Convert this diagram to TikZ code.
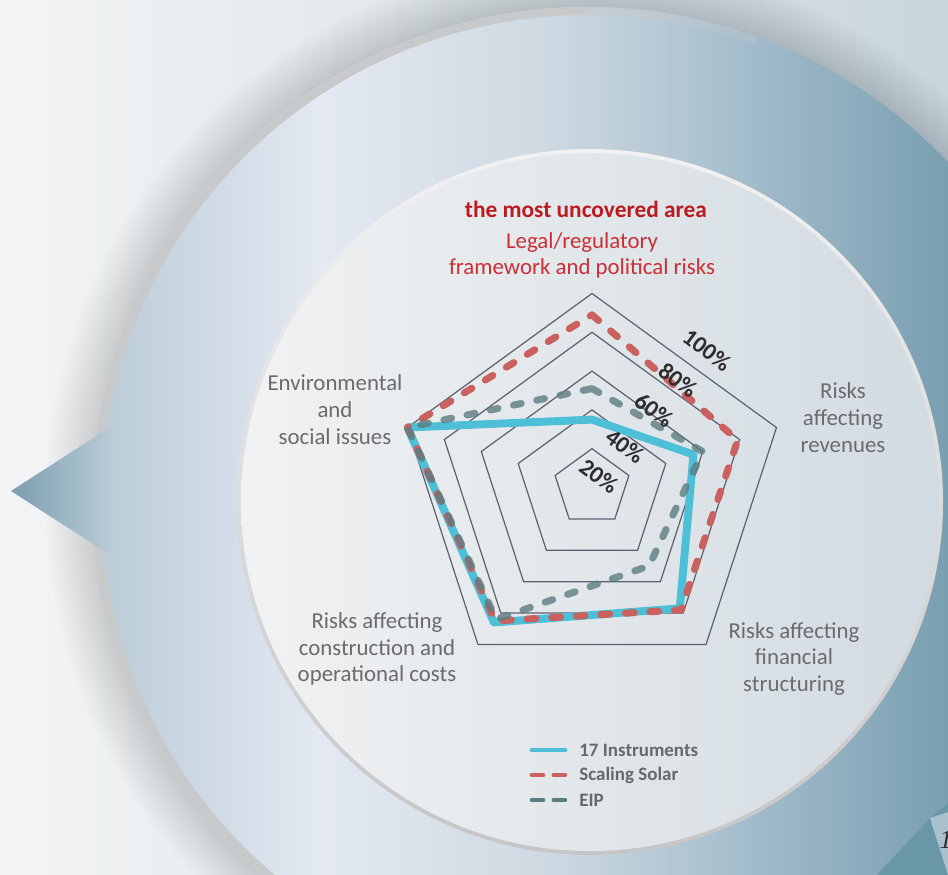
\documentclass[tikz,border=0pt]{standalone}
\usepackage{fontspec}
\setmainfont{Carlito}
\newfontfamily\pagefont{Liberation Serif}
\usepackage{xcolor}
\usetikzlibrary{positioning}

\definecolor{bgl}{HTML}{F3F4F5}
\definecolor{bgr}{HTML}{C9D6DD}
\definecolor{ringA}{HTML}{B9CBD6}
\definecolor{ringB}{HTML}{E4E9F3}
\definecolor{ringC}{HTML}{CCD8E1}
\definecolor{ringD}{HTML}{A3BCCB}
\definecolor{ringE}{HTML}{799FB1}
\definecolor{rimc}{HTML}{C8C9CA}
\definecolor{tipc}{HTML}{7B9EB0}
\definecolor{tipbase}{HTML}{BCCDD8}
\definecolor{discl}{HTML}{F1F2F3}
\definecolor{discr}{HTML}{D2DBE1}
\definecolor{gridc}{HTML}{5E6270}
\definecolor{instc}{HTML}{4DBFD6}
\definecolor{solarc}{HTML}{CB615E}
\definecolor{eipc}{HTML}{5B7D81}
\definecolor{labc}{HTML}{6A6B6F}
\definecolor{pctc}{HTML}{2E2E30}
\definecolor{legc}{HTML}{67686C}
\definecolor{titlec}{HTML}{BB1A1F}
\definecolor{legalc}{HTML}{CC2E36}
\definecolor{cornerc}{HTML}{6A97A7}
\definecolor{wedgec}{HTML}{A8C1CC}

% ring colour runs left to right over the visible part
\pgfdeclarehorizontalshading{bigdisc}{100bp}{color(0bp)=(ringA); color(25bp)=(ringA); color(38.3bp)=(ringB); color(52.3bp)=(ringC); color(63.4bp)=(ringD); color(75bp)=(ringE); color(100bp)=(ringE)}

\begin{document}
\begin{tikzpicture}[x=0.02cm, y=0.02cm,
    gridline/.style={draw=gridc, line width=0.7pt},
    instr/.style={draw=instc, line width=4.5pt, line join=round, line cap=round},
    solar/.style={draw=solarc, line width=4pt, line join=round, line cap=round, dash pattern=on 5pt off 9pt},
    eip/.style={draw=eipc, opacity=.8, line width=4pt, line join=round, line cap=round, dash pattern=on 4.5pt off 9pt},
    leginstr/.style={draw=instc, line width=2.8pt, line cap=round},
    legsolar/.style={draw=solarc, line width=2.8pt, line cap=round, dash pattern=on 6.2pt off 6.3pt},
    legeip/.style={draw=eipc, line width=2.8pt, line cap=round, dash pattern=on 6.2pt off 6.3pt},
    axislabel/.style={text=labc, align=center, font=\fontsize{13}{15.3}\selectfont},
    pct/.style={text=pctc, rotate=-37, inner sep=0pt, font=\bfseries\fontsize{13.5}{14}\selectfont},
    legtext/.style={text=legc, anchor=west, inner sep=0pt, font=\bfseries\fontsize{10.8}{12}\selectfont}]
\useasboundingbox (0,0) rectangle (948,-875);
\clip (0,0) rectangle (948,-875);
\def\R{194}

% background and the big bubble
\shade[left color=bgl, right color=bgr] (0,0) rectangle (948,-875);
\foreach \r in {498,502,...,542}
    \fill[black, opacity=.012] (588,-502) circle (\r);
\begin{scope}
    \clip (588,-502) circle (495);
    \shade[shading=bigdisc] (93,-5) rectangle (948,-875);
\end{scope}
\draw[rimc, line width=4.5pt] (588,-502) ++(90:491) arc (90:240:491);
\draw[rimc, line width=4.5pt, opacity=.6] (588,-502) ++(80:491) arc (80:90:491);
\draw[rimc, line width=4.5pt, opacity=.3] (588,-502) ++(70:491) arc (70:80:491);
\shade[left color=tipc, right color=tipbase] (11,-491) -- (115,-424) -- (115,-558) -- cycle;

% corner of the next page
\fill[cornerc] (877,-875) -- (930,-818) -- (948,-803) -- (948,-875) -- cycle;
\fill[wedgec] (930,-818) -- (948,-812) -- (948,-875) -- cycle;
\node[text=pctc, anchor=west, inner sep=0pt, font=\pagefont\itshape\fontsize{15}{16}\selectfont] (pg) at (939,-840) {1};

% inner disc
\shade[top color=white!90!gray, bottom color=gray!45] (590,-502) circle (353);
\shade[left color=discl, right color=discr] (590,-502) circle (349);

% radar
\begin{scope}[shift={(592,-487.5)}]
    \coordinate (o) at (0,0);
    \foreach \a [count=\i] in {90,18,-54,-126,162}
        \coordinate (ax\i) at (\a:\R);
    \foreach \k in {1,...,5}
        \draw[gridline] (90:{\k*\R/5}) -- (18:{\k*\R/5}) -- (-54:{\k*\R/5}) -- (-126:{\k*\R/5}) -- (162:{\k*\R/5}) -- cycle;
    \draw[instr] (90:{.35*\R}) -- (18:{.55*\R}) -- (-54:{.77*\R}) -- (-126:{.86*\R}) -- (ax5) -- cycle;
    \draw[solar] (90:{.89*\R}) -- (18:{.79*\R}) -- (-54:{.78*\R}) -- (-126:{.85*\R}) -- (ax5) -- cycle;
    \draw[eip] (90:{.51*\R}) -- (18:{.60*\R}) -- (-54:{.50*\R}) -- (-126:{.84*\R}) -- (ax5) -- cycle;
\end{scope}

\foreach \p/\x/\y in {20/599/476, 40/625/446, 60/654/410, 80/678/380, 100/707/350}
    \node[pct] (p\p) at (\x,-\y) {\p\%};

% axis labels
\node[text=titlec, font=\bfseries\fontsize{13.3}{15}\selectfont] (most) at (586,-209) {the most uncovered area};
\node[axislabel, text=legalc, font=\fontsize{13}{14.7}\selectfont] (legal) at (582,-255) {Legal/regulatory\\framework and political risks};
\node[axislabel] (env) at (335,-410) {Environmental\\and\\social issues};
\node[axislabel] (rev) at (843,-418) {Risks\\affecting\\revenues};
\node[axislabel] (fin) at (794,-659) {Risks affecting\\financial\\structuring};
\node[axislabel] (cons) at (377,-649) {Risks affecting\\construction and\\operational costs};

% legend
\foreach \s/\y/\t [count=\i] in {leginstr/750/17 Instruments, legsolar/775/Scaling Solar, legeip/800/EIP} {
    \coordinate (la\i) at (532,-\y);
    \coordinate (lb\i) at (565,-\y);
    \draw[\s] (la\i) -- (lb\i);
    \node[legtext] (lt\i) at (579,-\y) {\t};
}
\end{tikzpicture}
\end{document}
